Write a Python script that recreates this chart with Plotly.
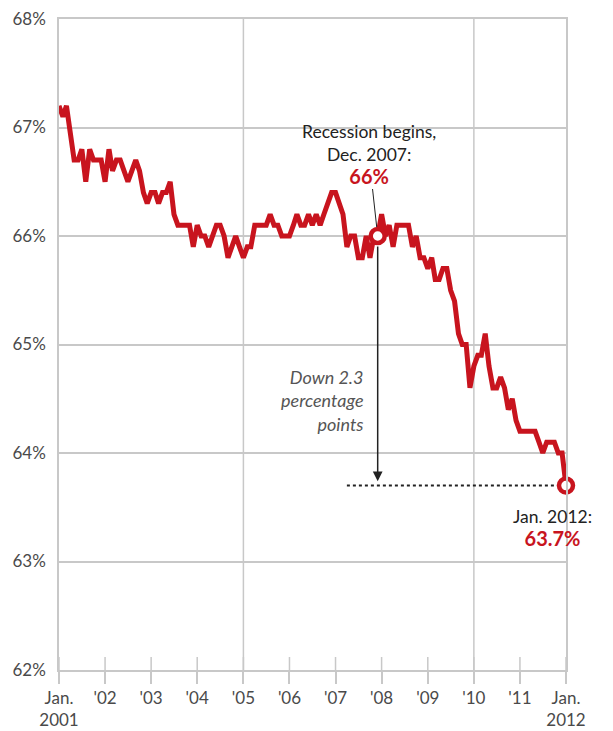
import plotly.graph_objects as go
import pandas as pd

# Labor force participation rate, monthly, Jan 2001 - Jan 2012 (percent)
start_month = "2001-01-01"
rate = [
    67.2, 67.1, 67.2, 66.9, 66.7, 66.7, 66.8, 66.5, 66.8, 66.7, 66.7, 66.7,  # 2001
    66.5, 66.8, 66.6, 66.7, 66.7, 66.6, 66.5, 66.6, 66.7, 66.6, 66.4, 66.3,  # 2002
    66.4, 66.4, 66.3, 66.4, 66.4, 66.5, 66.2, 66.1, 66.1, 66.1, 66.1, 65.9,  # 2003
    66.1, 66.0, 66.0, 65.9, 66.0, 66.1, 66.1, 66.0, 65.8, 65.9, 66.0, 65.9,  # 2004
    65.8, 65.9, 65.9, 66.1, 66.1, 66.1, 66.1, 66.2, 66.1, 66.1, 66.0, 66.0,  # 2005
    66.0, 66.1, 66.2, 66.1, 66.1, 66.2, 66.1, 66.2, 66.1, 66.2, 66.3, 66.4,  # 2006
    66.4, 66.3, 66.2, 65.9, 66.0, 66.0, 65.8, 65.8, 66.0, 65.8, 66.0, 66.0,  # 2007
    66.2, 66.0, 66.1, 65.9, 66.1, 66.1, 66.1, 66.1, 65.9, 66.0, 65.8, 65.8,  # 2008
    65.7, 65.8, 65.6, 65.6, 65.7, 65.7, 65.5, 65.4, 65.1, 65.0, 65.0, 64.6,  # 2009
    64.8, 64.9, 64.9, 65.1, 64.8, 64.6, 64.6, 64.7, 64.6, 64.4, 64.5, 64.3,  # 2010
    64.2, 64.2, 64.2, 64.2, 64.2, 64.1, 64.0, 64.1, 64.1, 64.1, 64.0, 64.0,  # 2011
    63.7,                                                                    # 2012
]
months = pd.date_range(start_month, periods=len(rate), freq="MS")

year_ticks = pd.date_range("2001-01-01", "2012-01-01", freq="YS")
year_labels = ["Jan.<br>2001", "'02", "'03", "'04", "'05", "'06", "'07",
               "'08", "'09", "'10", "'11", "Jan.<br>2012"]
y_ticks = [62, 63, 64, 65, 66, 67, 68]
grid_years = ["2005-01-01", "2010-01-01"]

recession_month = pd.Timestamp("2007-12-01")
recession_value = rate[list(months).index(recession_month)]
last_month = months[-1]
last_value = rate[-1]
drop = round(recession_value - last_value, 1)
dotted_start = pd.Timestamp("2007-04-01")

RED = "#c8141e"
GRID = "#c8c8c8"
TXT = "#222222"
FONT = "Lato"

fig = go.Figure()

fig.add_trace(go.Scatter(
    x=[dotted_start, last_month], y=[last_value, last_value],
    mode="lines", line=dict(color=TXT, width=2, dash="dot"),
    hoverinfo="skip", showlegend=False))

fig.add_trace(go.Scatter(
    x=months, y=rate, mode="lines",
    line=dict(color=RED, width=5), showlegend=False))

fig.add_trace(go.Scatter(
    x=[recession_month, last_month], y=[recession_value, last_value],
    mode="markers",
    marker=dict(size=14, color="white", line=dict(color=RED, width=4.5)),
    showlegend=False, cliponaxis=False))

shapes = []
for g in grid_years:
    shapes.append(dict(type="line", xref="x", yref="paper", x0=g, x1=g,
                       y0=0, y1=1, line=dict(color=GRID, width=1.5), layer="below"))
for t in year_ticks:
    shapes.append(dict(type="line", xref="x", yref="paper", x0=t, x1=t,
                       y0=0, y1=0.02, line=dict(color=GRID, width=1.5), layer="below"))
fig.update_layout(shapes=shapes)

annotations = [
    dict(x=recession_month, y=recession_value, xref="x", yref="y",
         text=("Recession begins,<br>Dec. 2007:<br>"
               f"<b><span style='color:{RED};font-size:20px'>{recession_value:g}%</span></b>"),
         showarrow=True, arrowhead=0, arrowwidth=1, arrowcolor=TXT,
         ax=-9, ay=-82, standoff=9, align="center",
         font=dict(family=FONT, size=17.5, color=TXT)),
    dict(x=recession_month, y=last_value + 0.04, xref="x", yref="y",
         ax=recession_month, ay=recession_value, axref="x", ayref="y",
         text="", showarrow=True, arrowhead=2, arrowsize=1.3, arrowwidth=1.5,
         arrowcolor=TXT, startstandoff=9),
    dict(x=recession_month, y=64.48, xref="x", yref="y",
         text=f"<i>Down {drop:g}<br>percentage<br>points</i>",
         showarrow=False, xanchor="right", yanchor="middle", align="right",
         xshift=-12, font=dict(family=FONT, size=18, color="#555555")),
    dict(x=last_month, y=last_value, xref="x", yref="y",
         text=("Jan. 2012:<br>"
               f"<b><span style='color:{RED};font-size:20px'>{last_value:g}%</span></b>"),
         showarrow=False, xanchor="center", yanchor="top", align="center",
         xshift=-14, yshift=-18, font=dict(family=FONT, size=17.5, color=TXT)),
]
fig.update_layout(annotations=annotations)

fig.update_layout(
    width=605, height=723,
    margin=dict(l=51, r=47, t=11, b=61, pad=0),
    paper_bgcolor="white", plot_bgcolor="white",
    font=dict(family=FONT, size=17, color="#4a4a4a"),
    xaxis=dict(
        type="date", automargin=False, ticklabeloverflow="allow",
        range=[months[0], last_month],
        tickvals=year_ticks, ticktext=year_labels,
        showgrid=False, zeroline=False,
        showline=True, mirror=True, linecolor=GRID, linewidth=1.5,
        ticks="outside", ticklen=12, tickcolor=GRID, tickwidth=1.5,
        tickfont=dict(family=FONT, size=17, color="#4a4a4a"),
    ),
    yaxis=dict(
        automargin=False, ticklabeloverflow="allow",
        range=[62, 68], tickvals=y_ticks,
        ticktext=[f"{v}%" for v in y_ticks],
        showgrid=True, gridcolor=GRID, gridwidth=1.5, zeroline=False,
        showline=True, mirror=True, linecolor=GRID, linewidth=1.5,
        ticks="", ticklabelstandoff=8,
        tickfont=dict(family=FONT, size=17, color="#4a4a4a"),
    ),
)

fig.write_html("out.html")
